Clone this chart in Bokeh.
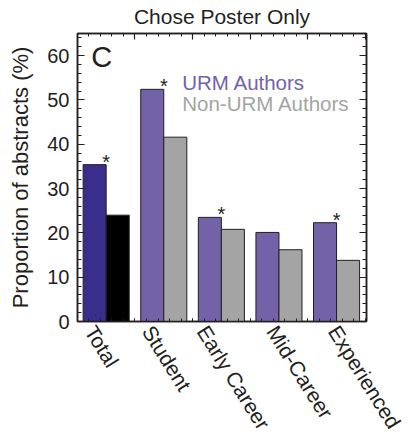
import math
from bokeh.plotting import figure
from bokeh.models import FixedTicker, LinearAxis, Label, ColumnDataSource, Range1d
from bokeh.transform import dodge
from bokeh.embed import file_html
from bokeh.resources import INLINE
from bokeh.core.properties import value

# ---- data ----
categories = ["Total", "Student", "Early Career", "Mid-Career", "Experienced"]
urm = [35.4, 52.4, 23.5, 20.1, 22.3]
non_urm = [24.0, 41.6, 20.8, 16.2, 13.8]
significant = [True, True, True, False, True]
y_ticks = [0, 10, 20, 30, 40, 50, 60]
y_minor = list(range(0, 66, 2))

FONT = "Liberation Sans"
TXT = "#231f20"
PURPLE = "#7462a9"
DARK = "#3b2d8b"
GRAY = "#a3a4a3"

xr = Range1d(-0.498, 4.52)
p = figure(width=409, height=443, output_backend="svg", toolbar_location=None,
           x_range=xr, y_range=Range1d(0, 65),
           min_border_left=77, min_border_right=43, min_border_top=33,
           min_border_bottom=122)
p.grid.visible = False
p.outline_line_color = TXT
p.outline_line_width = 1.5
p.background_fill_color = "white"
p.border_fill_color = "white"

idx = list(range(len(categories)))
urm_colors = [DARK] + [PURPLE] * (len(categories) - 1)
non_colors = ["#000000"] + [GRAY] * (len(categories) - 1)
src = ColumnDataSource(dict(x=idx, urm=urm, non=non_urm, cu=urm_colors, cn=non_colors))
p.vbar(x=dodge("x", -0.2, range=xr), top="urm", width=0.4, bottom=0, source=src,
       fill_color="cu", line_color=TXT, line_width=1)
p.vbar(x=dodge("x", 0.2, range=xr), top="non", width=0.4, bottom=0, source=src,
       fill_color="cn", line_color=TXT, line_width=1)

# significance stars
sx = [i for i, s in zip(idx, significant) if s]
sy = [u for u, s in zip(urm, significant) if s]
p.text(x=sx, y=sy, text=["*"] * len(sx), text_font=value(FONT), text_font_size="20px",
       text_align="center", text_baseline="alphabetic", text_color=TXT, y_offset=-3)

# x-axis ticks
bounds = [i + 0.5 for i in idx[:-1]]
x_minor = [round(-0.5 + 0.2 * k, 3) for k in range(26)]
label_shift = [-0.28, -0.28, -0.33, -0.12, -0.05]   # label placement (layout)
label_pos = [round(i + s, 3) for i, s in zip(idx, label_shift)]

def style_axis(ax):
    ax.axis_line_color = TXT
    ax.axis_line_width = 1.5
    ax.major_tick_line_color = TXT
    ax.minor_tick_line_color = TXT
    ax.major_tick_line_width = 1.2
    ax.minor_tick_line_width = 1
    ax.major_tick_out = 0
    ax.minor_tick_out = 0
    ax.major_label_text_font = FONT
    ax.major_label_text_color = TXT
    ax.axis_label_text_font = FONT
    ax.axis_label_text_font_style = "normal"
    ax.axis_label_text_color = TXT

xb = p.xaxis[0]
xb.ticker = FixedTicker(ticks=label_pos, minor_ticks=x_minor + bounds)
xb.major_label_overrides = {t: c for t, c in zip(label_pos, categories)}
style_axis(xb)
xb.major_tick_in = 0
xb.minor_tick_in = 3
xb.major_label_orientation = -math.radians(58)
xb.major_label_text_font_size = "21px"
xb.major_label_standoff = 6

# top axis carries the panel title as its axis label
xt = LinearAxis(ticker=FixedTicker(ticks=[-0.5] + bounds + [4.5], minor_ticks=x_minor))
style_axis(xt)
xt.major_tick_in = 6
xt.minor_tick_in = 3
xt.major_label_standoff = 0
xt.major_label_text_font_size = "1px"
xt.major_label_overrides = {t: "" for t in [-0.5] + bounds + [4.5]}
xt.axis_label = "Chose Poster Only"
xt.axis_label_text_font_size = "21px"
xt.axis_label_standoff = 6
p.add_layout(xt, "above")

yl = p.yaxis[0]
yl.ticker = FixedTicker(ticks=y_ticks, minor_ticks=y_minor)
style_axis(yl)
yl.major_tick_in = 7
yl.minor_tick_in = 4
yl.major_label_text_font_size = "20px"
yl.major_label_standoff = 8
yl.axis_label = "Proportion of abstracts (%)"
yl.axis_label_text_font_size = "22px"
yl.axis_label_standoff = 11

yr = LinearAxis(ticker=FixedTicker(ticks=y_ticks, minor_ticks=y_minor))
style_axis(yr)
yr.major_tick_in = 7
yr.minor_tick_in = 4
yr.major_label_overrides = {t: "" for t in y_ticks}
p.add_layout(yr, "right")

# panel letter, legend
p.add_layout(Label(x=-0.26, y=59.8, text="C", text_font=FONT, text_font_size="29px",
                   text_color=TXT, text_baseline="alphabetic"))
p.add_layout(Label(x=1.32, y=53.85, text="URM Authors", text_font=FONT,
                   text_font_size="20.5px", text_color=PURPLE, text_baseline="alphabetic"))
p.add_layout(Label(x=1.32, y=49.15, text="Non-URM Authors", text_font=FONT,
                   text_font_size="20.5px", text_color=GRAY, text_baseline="alphabetic"))

open("out.html", "w").write(file_html(p, INLINE))
